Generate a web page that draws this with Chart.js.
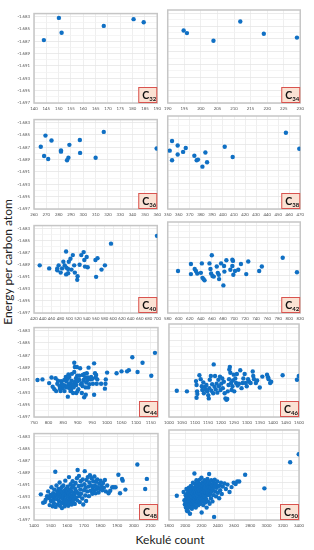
<!DOCTYPE html>
<html><head><meta charset="utf-8">
<script src="https://cdn.jsdelivr.net/npm/chart.js@4.4.0/dist/chart.umd.min.js"></script>
<style>
html,body{margin:0;padding:0;background:#fff;}
#wrap{position:relative;width:314px;height:550px;overflow:hidden;background:#fff;}
#wrap canvas{position:absolute;}
.title{position:absolute;font-family:Lato,"Open Sans",sans-serif;color:#222;white-space:nowrap;text-align:center;}
</style></head>
<body><div id="wrap">
<div class="title" id="ytitle" style="left:-92px;top:254px;width:200px;height:16px;line-height:16px;font-size:12px;transform:rotate(-90deg);">Energy per carbon atom</div>
<div class="title" id="xtitle" style="left:110px;top:532px;width:120px;height:16px;line-height:16px;font-size:12px;">Kekulé count</div>
</div>
<script>
// ---- data ----
const Y_LABELS = [-1.683,-1.685,-1.687,-1.689,-1.691,-1.693,-1.695,-1.697];
const PANEL_NAMES = ['32','34','36','38','40','42','44','46','48','50'];

const C32_TICKS = [140,145,150,155,160,165,170,175,180,185,190];
const C34_TICKS = [190,195,200,205,210,215,220,225,230];
const C36_TICKS = [260,270,280,290,300,310,320,330,340,350,360];
const C38_TICKS = [350,360,370,380,390,400,410,420,430,440,450,460,470];
const C40_TICKS = [420,440,460,480,500,520,540,560,580,600,620,640,660,680,700];
const C42_TICKS = [580,600,620,640,660,680,700,720,740,760,780,800,820];
const C44_TICKS = [750,800,850,900,950,1000,1050,1100,1150];
const C46_TICKS = [1000,1050,1100,1150,1200,1250,1300,1350,1400,1450,1500];
const C48_TICKS = [1400,1500,1600,1700,1800,1900,2000,2100];
const C50_TICKS = [1800,2000,2200,2400,2600,2800,3000,3200,3400];
const X_MAX = [190,230,360,470,700,820,1175,1500,2145,3400];

const C32 = [[144.0,-1.6868],[150.1,-1.6832],[151.2,-1.6856],[168.3,-1.6845],[180.4,-1.6834],[184.5,-1.6839]];
const C34 = [[194.8,-1.6857],[195.8,-1.6861],[203.8,-1.6873],[211.9,-1.6843],[219.0,-1.6862],[229.0,-1.6868]];
const C36 = [[269.3,-1.6851],[274.2,-1.6859],[265.5,-1.6869],[268.2,-1.6884],[271.5,-1.6889],[281.9,-1.6875],[281.9,-1.6877],[288.7,-1.6866],[287.9,-1.6887],[286.8,-1.6891],[297.2,-1.6858],[297.4,-1.6879],[310,-1.6887],[316.6,-1.6845],[359.5,-1.6872]];
const C38 = [[353.9,-1.6864],[351.8,-1.6879],[353.9,-1.6894],[359.0,-1.6871],[359.0,-1.6885],[363.9,-1.6881],[366.3,-1.6875],[374.1,-1.6887],[376.2,-1.6894],[377.4,-1.6893],[384.1,-1.6882],[385.6,-1.6897],[381.4,-1.6904],[401.6,-1.6873],[408.8,-1.6889],[457.0,-1.6851],[469.1,-1.6876]];
const C40 = [[433,-1.6891],[454.5,-1.6896],[472.9,-1.6899],[472.9,-1.6896],[476,-1.6891],[480.6,-1.6903],[483.7,-1.6896],[486.7,-1.6885],[489.8,-1.6891],[492.9,-1.6868],[493.6,-1.6895],[492.9,-1.6906],[497.5,-1.6897],[497.5,-1.6904],[499,-1.6885],[502.8,-1.6880],[505.1,-1.6898],[508.2,-1.6874],[511.3,-1.6891],[512.8,-1.6903],[519,-1.6909],[518.2,-1.6915],[523.6,-1.6890],[527.4,-1.6874],[532.8,-1.6869],[534.3,-1.6882],[535.8,-1.6893],[539.7,-1.6877],[542,-1.6894],[559.6,-1.6882],[564.2,-1.6879],[561.1,-1.6910],[573.4,-1.6898],[581.1,-1.6891],[594.9,-1.6855],[699.2,-1.6842]];
const C42 = [[598.6,-1.6903],[622,-1.6892],[622,-1.6908],[628.8,-1.6900],[631,-1.6903],[633.4,-1.6907],[640,-1.6906],[641.8,-1.6891],[643,-1.6914],[644.8,-1.6916],[646.6,-1.6918],[655.6,-1.6891],[657.4,-1.6900],[659.8,-1.6878],[658.6,-1.6907],[661,-1.6911],[663.4,-1.6912],[668.8,-1.6896],[670.6,-1.6906],[672.4,-1.6909],[673,-1.6916],[676.6,-1.6891],[680.8,-1.6926],[682,-1.6895],[682.6,-1.6904],[686.2,-1.6886],[693.4,-1.6901],[697,-1.6885],[698.2,-1.6887],[697,-1.6895],[698.8,-1.6909],[701.8,-1.6903],[707.8,-1.6901],[712.6,-1.6892],[722.2,-1.6908],[725.8,-1.6888],[745.6,-1.6903],[750.4,-1.6896],[788.2,-1.6882],[814,-1.6905]];
const C44 = [[1164.6,-1.6866],[1087,-1.6873],[1122,-1.6882],[1000.6,-1.6898],[1033,-1.6899],[1050,-1.6896],[1069,-1.6896],[1075,-1.6894],[1105,-1.6897],[1152,-1.6903],[995,-1.6916],[993,-1.6924],[996,-1.6909],[980,-1.6916],[965,-1.6916],[927.5,-1.6934],[922,-1.6938],[914,-1.6931],[895,-1.6931],[866,-1.6937],[927,-1.6922],
[762,-1.6910],[779,-1.6909],[802,-1.6915],[810,-1.6906],[824,-1.6907],[826,-1.6928],[830,-1.6916],[838,-1.6920],[841,-1.6928],[843,-1.6912],[849,-1.6923],[854.5,-1.6928],[855.6,-1.6919],[859,-1.6905],[861,-1.6912],[866,-1.6908],[868,-1.6901],[869,-1.6917],[871,-1.6923],[875,-1.6915],[877,-1.6926],[879,-1.6911],[880,-1.6920],[884,-1.6917],[886,-1.6922],[888,-1.6882],[890,-1.6889],[890,-1.6913],[894,-1.6907],[895,-1.6918],[897,-1.6889],[898,-1.6903],[899,-1.6912],[902,-1.6925],[905,-1.6910],[908,-1.6891],[911,-1.6917],[914,-1.6915],[917,-1.6902],[920,-1.6910],[923,-1.6900],[926,-1.6906],[929,-1.6914],[931,-1.6899],[933,-1.6910],[935,-1.6906],[937,-1.6890],[940,-1.6917],[944,-1.6909],[950,-1.6908],[952,-1.6916],[956,-1.6883],[959,-1.6899],[961,-1.6906],[963,-1.6902],[956,-1.6934],[967,-1.6909],[905,-1.6903],[854,-1.6910],[845,-1.6916],[832,-1.6911],[880,-1.6900],[871,-1.6905],[888,-1.6897],[849,-1.6918],[862,-1.6922],[875,-1.6928],[884,-1.6931],[899,-1.6928],[917,-1.6920],[936,-1.6922],[946,-1.6905],[839,-1.6924],[820,-1.6925],[814,-1.6921]];
const C46 = [[1030,-1.6929],[1069,-1.6930],[1104,-1.6914],[1106,-1.6920],[1108,-1.6930],[1106,-1.6940],[1109,-1.6934],[1117,-1.6905],[1122,-1.6911],[1126,-1.6922],[1128,-1.6928],[1132,-1.6916],[1134,-1.6933],[1138,-1.6923],[1141,-1.6927],[1144,-1.6920],[1147,-1.6930],[1151,-1.6936],[1153,-1.6941],[1155,-1.6925],[1157,-1.6912],[1161,-1.6906],[1163,-1.6929],[1166,-1.6919],[1170,-1.6933],[1172,-1.6888],[1175,-1.6923],[1177,-1.6906],[1180,-1.6927],[1183,-1.6918],[1186,-1.6932],[1190,-1.6912],[1192,-1.6922],[1196,-1.6907],[1198,-1.6928],[1201,-1.6918],[1205,-1.6910],[1207,-1.6925],[1211,-1.6915],[1214,-1.6933],[1217,-1.6941],[1221,-1.6943],[1224,-1.6942],[1226,-1.6930],[1229,-1.6920],[1231,-1.6911],[1232,-1.6896],[1234,-1.6892],[1236,-1.6901],[1239,-1.6917],[1241,-1.6928],[1244,-1.6922],[1246,-1.6913],[1249,-1.6904],[1251,-1.6930],[1255,-1.6910],[1258,-1.6917],[1261,-1.6903],[1264,-1.6921],[1269,-1.6918],[1274,-1.6897],[1279,-1.6925],[1283,-1.6917],[1286,-1.6910],[1291,-1.6903],[1295,-1.6917],[1299,-1.6922],[1304,-1.6911],[1308,-1.6915],[1314,-1.6917],[1322,-1.6899],[1324,-1.6906],[1327,-1.6911],[1334,-1.6917],[1339,-1.6913],[1349,-1.6924],[1359,-1.6907],[1377,-1.6904],[1381,-1.6908],[1383,-1.6911],[1389,-1.6917],[1393,-1.6915],[1437,-1.6905],[1492,-1.6912],[1499,-1.6906]];
const C48 = [[1441,-1.6927],[1455,-1.6941],[1465,-1.6940],[1470,-1.6936],[1478,-1.6930],[1485,-1.6922],[1490,-1.6933],[1494,-1.6945],[1498,-1.6928],[1502,-1.6938],[1505,-1.6915],[1508,-1.6931],[1512,-1.6947],[1515,-1.6925],[1518,-1.6936],[1520,-1.6942],[1522,-1.6919],[1525,-1.6930],[1528,-1.6889],[1530,-1.6948],[1532,-1.6927],[1535,-1.6912],[1538,-1.6935],[1540,-1.6922],[1542,-1.6944],[1545,-1.6930],[1547,-1.6918],[1550,-1.6938],[1552,-1.6925],[1554,-1.6907],[1556,-1.6946],[1558,-1.6932],[1560,-1.6920],[1562,-1.6940],[1564,-1.6928],[1566,-1.6915],[1568,-1.6950],[1570,-1.6934],[1572,-1.6924],[1574,-1.6942],[1576,-1.6912],[1578,-1.6930],[1580,-1.6938],[1582,-1.6921],[1584,-1.6947],[1586,-1.6927],[1588,-1.6904],[1590,-1.6935],[1592,-1.6918],[1594,-1.6943],[1596,-1.6929],[1598,-1.6923],[1600,-1.6938],[1602,-1.6914],[1604,-1.6931],[1606,-1.6946],[1608,-1.6925],[1610,-1.6898],[1612,-1.6936],[1614,-1.6919],[1616,-1.6941],[1618,-1.6928],[1620,-1.6910],[1622,-1.6933],[1624,-1.6922],[1626,-1.6944],[1628,-1.6916],[1630,-1.6930],[1632,-1.6905],[1634,-1.6938],[1636,-1.6924],[1638,-1.6912],[1640,-1.6935],[1642,-1.6927],[1645,-1.6943],[1648,-1.6918],[1650,-1.6908],[1652,-1.6932],[1655,-1.6922],[1658,-1.6900],[1660,-1.6937],[1662,-1.6886],[1665,-1.6925],[1668,-1.6913],[1670,-1.6896],[1672,-1.6930],[1675,-1.6940],[1678,-1.6919],[1680,-1.6905],[1683,-1.6926],[1686,-1.6912],[1690,-1.6934],[1693,-1.6902],[1696,-1.6944],[1700,-1.6920],[1703,-1.6910],[1705,-1.6888],[1708,-1.6929],[1710,-1.6916],[1713,-1.6938],[1716,-1.6903],[1720,-1.6922],[1723,-1.6898],[1726,-1.6914],[1730,-1.6930],[1733,-1.6907],[1736,-1.6895],[1740,-1.6921],[1743,-1.6912],[1746,-1.6900],[1750,-1.6926],[1753,-1.6915],[1756,-1.6905],[1760,-1.6920],[1763,-1.6897],[1766,-1.6912],[1770,-1.6925],[1773,-1.6906],[1776,-1.6918],[1780,-1.6902],[1784,-1.6915],[1788,-1.6924],[1792,-1.6909],[1796,-1.6918],[1800,-1.6904],[1805,-1.6913],[1810,-1.6920],[1815,-1.6908],[1820,-1.6916],[1826,-1.6903],[1832,-1.6922],[1840,-1.6912],[1848,-1.6925],[1858,-1.6921],[1870,-1.6915],[1880,-1.6915],[1890,-1.6915],[1907,-1.6894],[1917,-1.6925],[1929,-1.6901],[1933,-1.6904],[1949,-1.6919],[2021,-1.6877],[2068,-1.6918],[2078,-1.6901]];
const C50 = [[1896,-1.6931],[1980,-1.6925],[1990,-1.6938],[1995,-1.6945],[2001,-1.6940],[2005,-1.6930],[2008,-1.6950],[2012,-1.6935],[2015,-1.6920],[2018,-1.6943],[2020,-1.6955],[2022,-1.6928],[2025,-1.6938],[2028,-1.6947],[2030,-1.6932],[2033,-1.6956],[2035,-1.6925],[2038,-1.6941],[2040,-1.6935],[2042,-1.6950],[2045,-1.6918],[2048,-1.6938],[2050,-1.6928],[2052,-1.6945],[2055,-1.6933],[2058,-1.6960],[2060,-1.6922],[2062,-1.6940],[2065,-1.6930],[2068,-1.6948],[2070,-1.6915],[2072,-1.6936],[2075,-1.6926],[2078,-1.6943],[2080,-1.6932],[2082,-1.6952],[2085,-1.6920],[2088,-1.6938],[2090,-1.6928],[2092,-1.6945],[2095,-1.6910],[2098,-1.6934],[2100,-1.6925],[2102,-1.6940],[2105,-1.6918],[2108,-1.6948],[2110,-1.6930],[2113,-1.6895],[2115,-1.6936],[2118,-1.6922],[2120,-1.6942],[2122,-1.6912],[2125,-1.6932],[2128,-1.6926],[2130,-1.6950],[2132,-1.6918],[2135,-1.6938],[2138,-1.6906],[2140,-1.6930],[2142,-1.6944],[2145,-1.6922],[2148,-1.6935],[2150,-1.6915],[2152,-1.6940],[2155,-1.6926],[2158,-1.6932],[2160,-1.6910],[2162,-1.6946],[2165,-1.6920],[2168,-1.6936],[2170,-1.6928],[2172,-1.6914],[2175,-1.6940],[2178,-1.6924],[2180,-1.6905],[2182,-1.6934],[2185,-1.6918],[2188,-1.6944],[2190,-1.6928],[2192,-1.6912],[2195,-1.6936],[2198,-1.6922],[2200,-1.6902],[2202,-1.6958],[2205,-1.6930],[2208,-1.6916],[2210,-1.6940],[2212,-1.6925],[2215,-1.6910],[2218,-1.6934],[2220,-1.6920],[2222,-1.6946],[2225,-1.6930],[2228,-1.6912],[2230,-1.6938],[2233,-1.6922],[2236,-1.6906],[2240,-1.6932],[2243,-1.6918],[2246,-1.6942],[2250,-1.6926],[2253,-1.6910],[2256,-1.6936],[2260,-1.6920],[2263,-1.6950],[2266,-1.6930],[2270,-1.6914],[2273,-1.6904],[2276,-1.6926],[2280,-1.6940],[2283,-1.6918],[2286,-1.6908],[2290,-1.6930],[2294,-1.6896],[2297,-1.6922],[2300,-1.6944],[2304,-1.6912],[2308,-1.6928],[2312,-1.6918],[2316,-1.6935],[2320,-1.6906],[2325,-1.6924],[2330,-1.6914],[2335,-1.6940],[2340,-1.6920],[2345,-1.6910],[2350,-1.6930],[2355,-1.6965],[2360,-1.6916],[2363,-1.6905],[2368,-1.6924],[2375,-1.6912],[2380,-1.6932],[2388,-1.6918],[2395,-1.6908],[2402,-1.6926],[2410,-1.6915],[2418,-1.6935],[2423,-1.6915],[2430,-1.6922],[2440,-1.6910],[2450,-1.6928],[2462,-1.6916],[2483,-1.6911],[2500,-1.6920],[2520,-1.6913],[2545,-1.6925],[2570,-1.6917],[2596,-1.6910],[2620,-1.6912],[2640,-1.6908],[2664,-1.6908],[2737,-1.6897],[2974,-1.6919],[3291,-1.6877],[3396,-1.6864]];

const SERIES = [C32,C34,C36,C38,C40,C42,C44,C46,C48,C50];
const TICKS = [C32_TICKS,C34_TICKS,C36_TICKS,C38_TICKS,C40_TICKS,C42_TICKS,C44_TICKS,C46_TICKS,C48_TICKS,C50_TICKS];

// ---- layout / style ----
const COLS = [[34,158],[167,301]];
const ROWS = [[10,103],[116,209],[222,313],[324,417],[430,520]];
const Y_MIN = -1.697, Y_MAX = -1.6825;
const BLUE = '#1070c4';
const FONT = 'Lato, "Open Sans", sans-serif';

const yGridTicks = [];
for (let k = 0; k <= 14; k++) yGridTicks.push(+(Y_MIN + k*0.001).toFixed(3));

const framePlugin = {
  id: 'frame',
  beforeDatasetsDraw(chart) {
    const {ctx, chartArea: a} = chart;
    ctx.save();
    ctx.strokeStyle = '#c6c6c6'; ctx.lineWidth = 1.5;
    ctx.strokeRect(a.left, a.top, a.right - a.left, a.bottom - a.top);
    ctx.restore();
  },
  afterDraw(chart, args, opts) {
    const {ctx, chartArea: a} = chart;
    const bw = 19, bh = 16, bx = a.right - bw, by = a.bottom - bh;
    ctx.save();
    ctx.fillStyle = '#fbe2d4'; ctx.fillRect(bx, by, bw, bh);
    ctx.strokeStyle = '#d9534f'; ctx.lineWidth = 1;
    ctx.strokeRect(bx + 0.5, by + 0.5, bw - 1, bh - 1);
    ctx.fillStyle = '#111'; ctx.textBaseline = 'alphabetic';
    ctx.font = 'bold 10.5px ' + FONT; ctx.fillText('C', bx + 4, by + 11.5);
    ctx.font = 'bold 6px ' + FONT; ctx.fillText(opts.sub, bx + 11, by + 13.5);
    ctx.restore();
  }
};

const wrap = document.getElementById('wrap');
SERIES.forEach((pts, i) => {
  const col = i % 2, row = Math.floor(i / 2);
  const [L, R] = COLS[col], [T, B] = ROWS[row];
  const yW = col === 0 ? 22 : 0, padL = col === 0 ? 0 : 6, padR = 6, padT = 3, axH = 10;
  const cv = document.createElement('canvas');
  const w = (R - L) + yW + padL + padR, h = (B - T) + padT + axH;
  cv.width = w; cv.height = h;
  cv.style.width = w + 'px'; cv.style.height = h + 'px';
  cv.style.left = (L - yW - padL) + 'px'; cv.style.top = (T - padT) + 'px';
  wrap.appendChild(cv);
  const ticks = TICKS[i];
  new Chart(cv, {
    type: 'scatter',
    data: { datasets: [{ data: pts.map(p => ({x: p[0], y: p[1]})), pointRadius: 2.2, pointHoverRadius: 2.2,
      backgroundColor: BLUE, borderWidth: 0, pointBorderWidth: 0 }] },
    options: {
      responsive: false, animation: false, devicePixelRatio: 1, events: [],
      layout: { padding: { left: padL, right: padR, top: padT, bottom: 0 } },
      plugins: { legend: { display: false }, tooltip: { enabled: false }, frame: { sub: PANEL_NAMES[i] } },
      scales: {
        x: { type: 'linear', min: ticks[0], max: X_MAX[i],
          afterBuildTicks: s => { s.ticks = ticks.map(v => ({value: v})); },
          afterFit: s => { s.height = axH; },
          border: { display: false },
          grid: { color: '#ebebeb', lineWidth: 0.8, drawTicks: false },
          ticks: { font: { size: 4.3, family: FONT }, color: '#555', padding: 3, maxRotation: 0, minRotation: 0, autoSkip: false,
            callback: v => String(v) } },
        y: { type: 'linear', min: Y_MIN, max: Y_MAX,
          afterBuildTicks: s => { s.ticks = yGridTicks.map(v => ({value: v})); },
          afterFit: s => { s.width = yW; },
          border: { display: false },
          grid: { drawTicks: false, lineWidth: 0.8,
            color: c => (c.tick && Y_LABELS.some(v => Math.abs(v - c.tick.value) < 1e-7)) ? '#e6e6e6' : '#f3f3f3' },
          ticks: { display: col === 0, font: { size: 4.3, family: FONT }, color: '#555', padding: 4, autoSkip: false,
            callback: v => Y_LABELS.some(t => Math.abs(t - v) < 1e-7) ? v.toFixed(3) : '' } }
      }
    },
    plugins: [framePlugin]
  });
});
</script>
</body></html>
